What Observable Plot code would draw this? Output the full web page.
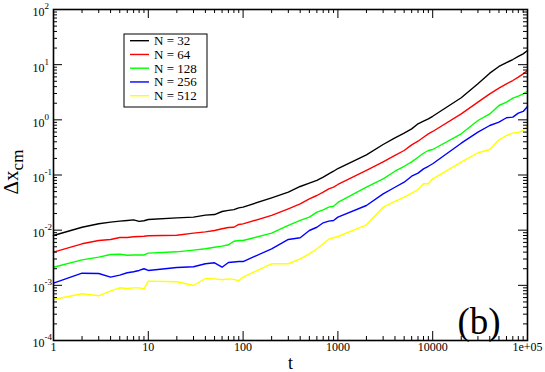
<!DOCTYPE html>
<html><head><meta charset="utf-8">
<script src="https://cdn.jsdelivr.net/npm/d3@7"></script>
<script src="https://cdn.jsdelivr.net/npm/@observablehq/plot@0.6"></script>
<style>body{margin:0;background:#fff} svg{display:block}</style>
</head><body><div id="chart"></div>
<script>
const t = [1,2,3,4,5,6,7,8,9,10,
  20,30,40,50,60,70,80,90,100,
  200,300,400,500,600,700,800,900,1000,
  2000,3000,4000,5000,6000,7000,8000,9000,10000,
  20000,30000,40000,50000,60000,70000,80000,90000,100000];

const names = ["N = 32","N = 64","N = 128","N = 256","N = 512"];
const colors = ["#000000","#ff0000","#00ff00","#0000ff","#ffff00"];

const n32 = [0.0080,0.0113,0.0131,0.0140,0.0146,0.0150,0.0154,0.0144,0.0148,0.0156,
  0.0167,0.0172,0.0187,0.0192,0.0218,0.0228,0.0236,0.0254,0.0261,
  0.0386,0.0489,0.0619,0.071,0.0796,0.0914,0.105,0.117,0.131,
  0.232,0.357,0.472,0.573,0.687,0.847,0.944,1.04,1.16,
  2.51,4.50,7.01,9.27,10.9,12.4,14.1,15.7,18.1];
const n64 = [0.0040,0.00566,0.0065,0.00678,0.00736,0.00736,0.00758,0.0077,0.00778,0.0079,
  0.0081,0.00883,0.00933,0.00986,0.0106,0.0112,0.0113,0.0127,0.0130,
  0.0185,0.0244,0.030,0.037,0.0425,0.0489,0.0562,0.0601,0.0673,
  0.121,0.173,0.226,0.278,0.352,0.41,0.484,0.558,0.615,
  1.28,2.09,2.96,3.75,4.5,5.16,5.93,6.82,7.83];
const n128 = [0.00213,0.0029,0.00324,0.00362,0.00367,0.00352,0.00355,0.00355,0.00355,0.00383,
  0.00405,0.00434,0.0046,0.0049,0.00513,0.00543,0.0063,0.0065,0.0065,
  0.00883,0.0122,0.015,0.0172,0.0212,0.0234,0.0261,0.0272,0.0318,
  0.060,0.0853,0.117,0.144,0.173,0.21,0.248,0.278,0.29,
  0.558,0.973,1.28,1.82,2.09,2.47,2.68,2.96,3.3];
const n256 = [0.0011,0.00166,0.00164,0.00141,0.00153,0.00169,0.00176,0.00186,0.002,0.00186,
  0.00211,0.00217,0.00246,0.00256,0.00213,0.0026,0.00265,0.0027,0.0027,
  0.0046,0.00678,0.00728,0.00986,0.0113,0.0136,0.0146,0.015,0.0172,
  0.028,0.0456,0.060,0.0741,0.0951,0.108,0.129,0.144,0.16,
  0.377,0.597,0.789,0.906,1.09,1.12,1.32,1.42,1.75];
const n512 = [0.000554,0.000703,0.000646,0.000796,0.000902,0.000877,0.0009,0.0009,0.000865,0.00119,
  0.00116,0.000993,0.00133,0.00131,0.00126,0.00131,0.00128,0.00121,0.00141,
  0.00246,0.00246,0.00303,0.00373,0.0046,0.00566,0.00687,0.00728,0.00768,
  0.0125,0.0261,0.0331,0.0396,0.0469,0.0546,0.0693,0.0693,0.0853,
  0.171,0.253,0.29,0.434,0.52,0.573,0.59,0.641,0.757];

const xTicks = [1,10,100,1000,10000,100000];
const xTickLabels = ["1","10","100","1000","10000","1e+05"];
const yTicks = [1e-4,1e-3,1e-2,1e-1,1,10,100];
const yTickExps = ["-4","-3","-2","-1","0","1","2"];

const seriesValues = [n32,n64,n128,n256,n512];
const data = [];
seriesValues.forEach((vals,i)=>vals.forEach((v,j)=>data.push({t:t[j], v, N:names[i]})));

const minorOf = (majors) => majors.slice(0,-1).flatMap(d => [2,3,4,5,6,7,8,9].map(k => k*d));
const xMinor = minorOf(xTicks);
const yMinor = minorOf(yTicks);

const W=545, H=372, mL=53, mR=18, mT=9, mB=32;
const iW = W-mL-mR, iH = H-mT-mB;
const MAJ=9, MIN=4;
const font = "Liberation Serif";

const plot = Plot.plot({
  width: W, height: H,
  marginLeft: mL, marginRight: mR, marginTop: mT, marginBottom: mB,
  style: {fontFamily: font, fontSize: "12px", background: "white", color: "black"},
  x: {type: "log", domain: [1,1e5], axis: null},
  y: {type: "log", domain: [1e-4,1e2], axis: null},
  color: {domain: names, range: colors},
  marks: [
    Plot.line(data, {x:"t", y:"v", stroke:"N", strokeWidth:1.4}),
    Plot.tickX(xTicks, {x:d=>d, insetTop: iH-MAJ, stroke:"black"}),
    Plot.tickX(xTicks, {x:d=>d, insetBottom: iH-MAJ, stroke:"black"}),
    Plot.tickX(xMinor, {x:d=>d, insetTop: iH-MIN, stroke:"black"}),
    Plot.tickX(xMinor, {x:d=>d, insetBottom: iH-MIN, stroke:"black"}),
    Plot.tickY(yTicks, {y:d=>d, insetRight: iW-MAJ, stroke:"black"}),
    Plot.tickY(yTicks, {y:d=>d, insetLeft: iW-MAJ, stroke:"black"}),
    Plot.tickY(yMinor, {y:d=>d, insetRight: iW-MIN, stroke:"black"}),
    Plot.tickY(yMinor, {y:d=>d, insetLeft: iW-MIN, stroke:"black"}),
    Plot.frame({stroke:"black", strokeWidth:1.6}),
    // x tick labels
    Plot.text(xTicks, {x:d=>d, frameAnchor:"bottom", lineAnchor:"top", dy:2,
      text:(d,i)=>xTickLabels[i], fontSize:12, fontFamily:font, fill:"black"}),
    // y tick labels: mantissa "10" and superscript exponent
    Plot.text(yTicks, {y:d=>d, frameAnchor:"left", textAnchor:"end", dx:-9, dy:3,
      text:()=>"10", fontSize:12, fontFamily:font, fill:"black"}),
    Plot.text(yTicks, {y:d=>d, frameAnchor:"left", textAnchor:"start", dx:-9, dy:-3,
      text:(d,i)=>yTickExps[i], fontSize:9, fontFamily:font, fill:"black"}),
    Plot.text(["t"], {frameAnchor:"bottom", dy:28, fontSize:18, fontFamily:font, fill:"black"})
  ]
});
document.getElementById("chart").appendChild(plot);

const svg = d3.select(plot);

// y axis title
const yl = svg.append("text")
  .attr("transform", "translate(18,172) rotate(-90)")
  .attr("text-anchor", "middle")
  .attr("font-family", font).attr("font-size", 21).attr("fill", "black");
yl.append("tspan").text("Δx");
yl.append("tspan").attr("dy", 5).attr("font-size", 17).text("cm");

// legend
const lg = svg.append("g").attr("text-anchor","start");
lg.append("rect").attr("x",124).attr("y",34).attr("width",83).attr("height",73)
  .attr("fill","white").attr("stroke","black").attr("stroke-width",1);
names.forEach((n,i)=>{
  const y = 40.7 + i*13.75;
  lg.append("line").attr("x1",130).attr("x2",149).attr("y1",y).attr("y2",y)
    .attr("stroke",colors[i]).attr("stroke-width",1.4);
  lg.append("text").attr("x",154).attr("y",y+4.5).attr("font-family",font)
    .attr("font-size",13).attr("fill","black").text(n);
});

// panel label
svg.append("text").attr("x",479).attr("y",334).attr("text-anchor","middle")
  .attr("font-family",font).attr("font-size",37).attr("fill","black").text("(b)");
</script>
</body></html>
